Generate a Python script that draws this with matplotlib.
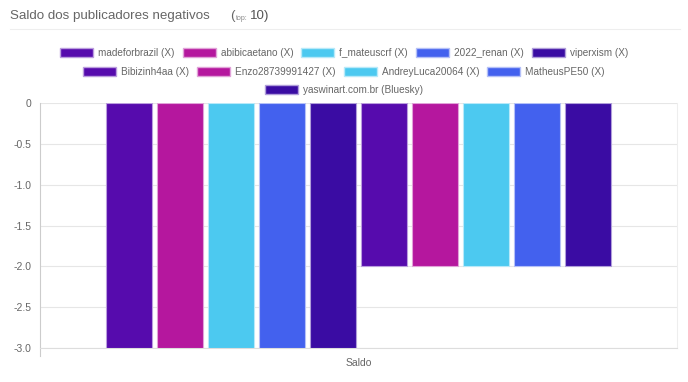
import numpy as np
import matplotlib.pyplot as plt
from matplotlib.patches import Patch
from matplotlib.colors import to_rgb

names = ['madeforbrazil (X)', 'abibicaetano (X)', 'f_mateuscrf (X)', '2022_renan (X)', 'viperxism (X)',
         'Bibizinh4aa (X)', 'Enzo28739991427 (X)', 'AndreyLuca20064 (X)', 'MatheusPE50 (X)',
         'yaswinart.com.br (Bluesky)']
values = [-3, -3, -3, -3, -3, -2, -2, -2, -2, -2]
palette = ['#560bad', '#b5179e', '#4cc9f0', '#4361ee', '#3a0ca3']
yticks = [0, -0.5, -1.0, -1.5, -2.0, -2.5, -3.0]
ytick_labels = ['0', '-0.5', '-1.0', '-1.5', '-2.0', '-2.5', '-3.0']
category = 'Saldo'

colors = [palette[i % 5] for i in range(len(values))]

def lighter(c, f=0.6):
    r, g, b = to_rgb(c)
    return (r + (1 - r) * f, g + (1 - g) * f, b + (1 - b) * f)

plt.rcParams['font.family'] = ['Liberation Sans', 'DejaVu Sans']
fig = plt.figure(figsize=(6.88, 3.82), dpi=100)
ax = fig.add_axes([40 / 688, 1 - 348 / 382, 637 / 688, 245 / 382])

n = len(values)
slot = 0.08
w = 0.072
xs = (np.arange(n) - (n - 1) / 2) * slot
for i in range(n):
    ax.bar(xs[i], values[i], width=w, color=colors[i], edgecolor=lighter(colors[i]), linewidth=0.8, zorder=3)

ax.set_xlim(-0.5, 0.5)
ax.set_ylim(-3.0, 0)
ax.set_yticks(yticks)
ax.set_yticklabels(ytick_labels)
ax.set_xticks([0])
ax.set_xticklabels([category])
ax.tick_params(axis='x', length=0, pad=7, labelsize=7.5, labelcolor='#666666')
ax.tick_params(axis='y', length=0, pad=6, labelsize=7.5, labelcolor='#666666')
ax.grid(axis='y', color='#e6e6e6', linewidth=0.8, zorder=0)
ax.spines['top'].set_visible(False)
ax.spines['left'].set_color('#cccccc')
ax.spines['bottom'].set_color('#dddddd')
ax.spines['right'].set_color('#eeeeee')
ax.spines['left'].set_bounds(-3.1, 0)

# title
fig.text(10 / 688, 1 - 16 / 382, 'Saldo dos publicadores negativos', fontsize=9.6, color='#666666', va='center')
fig.text(230 / 688, 1 - 16 / 382, '(', fontsize=9.6, color='#666666', va='center')
fig.text(236 / 688, 1 - 18 / 382, 'top:', fontsize=5, color='#888888', va='center')
fig.text(250 / 688, 1 - 16 / 382, '10)', fontsize=9.6, color='#555555', va='center')
fig.add_artist(plt.Line2D([10 / 688, 680 / 688], [1 - 29 / 382, 1 - 29 / 382], color='#eeeeee', lw=0.8))

# legend rows, centred on the figure
rows = [range(0, 5), range(5, 9), [9]]
row_y = [53, 72, 90]
for r, yy in zip(rows, row_y):
    handles = [Patch(facecolor=colors[i], edgecolor=lighter(colors[i]), label=names[i]) for i in r]
    fig.legend(handles=handles, loc='center', bbox_to_anchor=(344 / 688, 1 - yy / 382), ncol=len(handles),
               frameon=False, fontsize=7.2, handlelength=3.3, handleheight=1.0, handletextpad=0.5,
               columnspacing=0.8, borderpad=0, labelcolor='#666666')

fig.savefig('out.png', dpi=100)
